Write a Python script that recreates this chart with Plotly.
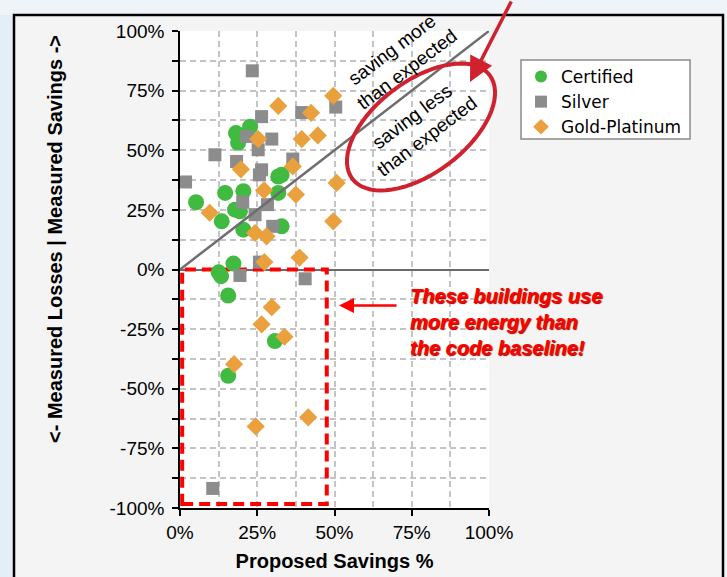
import numpy as np
import plotly.graph_objects as go

# ---------------- data (percent) ----------------
certified_x = [18.1, 22.7, 18.8, 21.5, 32.9, 31.8, 14.6, 20.5, 31.8, 5.2, 17.8, 19.4, 13.5, 20.5, 32.9, 17.3, 12.5, 13.3, 15.6, 30.7, 15.6]
certified_y = [57.2, 59.9, 53.1, 57.0, 39.7, 39.0, 32.1, 32.8, 32.1, 28.2, 25.1, 24.4, 20.2, 16.7, 18.1, 2.5, -1.2, -2.8, -10.9, -30.0, -44.6]

silver_x = [23.4, 39.4, 50.4, 26.4, 21.6, 29.7, 25.3, 11.3, 18.3, 26.4, 25.7, 36.5, 1.8, 20.3, 28.3, 24.3, 30.0, 25.7, 19.4, 40.5, 10.6]
silver_y = [83.3, 65.8, 68.1, 64.1, 55.8, 54.7, 50.2, 48.1, 45.3, 41.8, 39.7, 46.3, 36.7, 28.2, 27.2, 23.0, 18.1, 3.1, -2.5, -3.9, -91.8]

gold_x = [31.8, 42.4, 49.6, 25.3, 39.4, 44.6, 19.7, 36.5, 27.2, 37.5, 50.7, 9.6, 24.3, 28.0, 49.6, 27.3, 38.7, 29.7, 26.4, 33.8, 17.5, 24.5, 41.5]
gold_y = [68.6, 65.7, 72.8, 54.7, 54.7, 56.2, 42.0, 43.2, 33.2, 31.4, 36.3, 23.8, 15.3, 13.9, 20.2, 3.1, 5.0, -15.8, -23.0, -28.2, -39.7, -65.8, -62.0]

x_tick_vals = [0, 25, 50, 75, 100]
x_tick_text = ["0%", "25%", "50%", "75%", "100%"]
y_tick_vals = [-100, -75, -50, -25, 0, 25, 50, 75, 100]
y_tick_text = ["-100%", "-75%", "-50%", "-25%", "0%", "25%", "50%", "75%", "100%"]

# ---------------- layout geometry ----------------
W, H = 727, 577
L, R, T, B = 180, 489, 31, 508   # plot area in pixels


def fx(px):
    return (px - L) / (R - L)


def fy(py):
    return (B - py) / (B - T)


FONT = "Liberation Sans, Arial, sans-serif"

fig = go.Figure()
fig.add_trace(go.Scatter(x=certified_x, y=certified_y, mode="markers", name="Certified",
                         marker=dict(symbol="circle", size=16, color="#41BA41"), legendgroup="a"))
fig.add_trace(go.Scatter(x=silver_x, y=silver_y, mode="markers", name="Silver",
                         marker=dict(symbol="square", size=13, color="#8C8C8C"), legendgroup="b"))
fig.add_trace(go.Scatter(x=gold_x, y=gold_y, mode="markers", name="Gold-Platinum",
                         marker=dict(symbol="diamond", size=14, color="#EAA03C"), legendgroup="c"))

grid = dict(gridcolor="#c4c4c4", gridwidth=1.5, griddash="6px,4px")

fig.update_xaxes(range=[0, 100], tickmode="array", tickvals=x_tick_vals, ticktext=x_tick_text,
                 automargin=False,
                 showline=True, linecolor="black", linewidth=1.5, ticks="outside", ticklen=6,
                 tickcolor="black", tickwidth=1.5, zeroline=False, showgrid=True, **grid,
                 minor=dict(tickmode="linear", tick0=0, dtick=12.5, showgrid=True, **grid),
                 tickfont=dict(family=FONT, size=19, color="black"), ticklabelstandoff=0,
                 title=dict(text="<b>Proposed Savings %</b>", font=dict(family=FONT, size=20, color="black"),
                            standoff=12))
fig.update_yaxes(range=[-100, 100], tickmode="array", tickvals=y_tick_vals, ticktext=y_tick_text,
                 automargin=False,
                 showline=True, linecolor="black", linewidth=1.5, ticks="outside", ticklen=6,
                 tickcolor="black", tickwidth=1.5, showgrid=True, **grid,
                 zeroline=True, zerolinecolor="#6a6a6a", zerolinewidth=2,
                 minor=dict(tickmode="linear", tick0=0, dtick=12.5, showgrid=True, ticks="outside",
                            ticklen=6, tickcolor="black", tickwidth=1.5, **grid),
                 tickfont=dict(family=FONT, size=19, color="black"), ticklabelstandoff=4)

shapes = []
# outer slide background strips and box border
shapes.append(dict(type="rect", xref="paper", yref="paper", x0=fx(0), x1=fx(14), y0=fy(H), y1=fy(0),
                   fillcolor="#e4eef7", line=dict(width=0), layer="below"))
shapes.append(dict(type="rect", xref="paper", yref="paper", x0=fx(0), x1=fx(W), y0=fy(15), y1=fy(0),
                   fillcolor="#eef4f8", line=dict(width=0), layer="below"))
shapes.append(dict(type="rect", xref="paper", yref="paper", x0=fx(723), x1=fx(W), y0=fy(H), y1=fy(0),
                   fillcolor="#eef4f8", line=dict(width=0), layer="below"))
shapes.append(dict(type="path", xref="paper", yref="paper",
                   path=f"M {fx(14)},{fy(H + 5)} L {fx(14)},{fy(15)} L {fx(723)},{fy(15)} L {fx(723)},{fy(H + 5)}",
                   line=dict(color="black", width=2.5), layer="below"))
# legend box
shapes.append(dict(type="rect", xref="paper", yref="paper", x0=fx(521), x1=fx(690), y0=fy(139), y1=fy(60),
                   fillcolor="white", line=dict(color="#8a8a8a", width=1.5), layer="below"))
# diagonal expected line
shapes.append(dict(type="line", xref="x", yref="y", x0=0, y0=0, x1=100, y1=100,
                   line=dict(color="#6e6e6e", width=2.5), layer="above"))
# red dashed box
shapes.append(dict(type="rect", xref="x", yref="y", x0=0.7, x1=47.5, y0=-98.3, y1=0,
                   line=dict(color="#ff0000", width=4, dash="11px,6px"), layer="between"))
# red ellipse
cx, cy, a, b, th = 421, 127, 86, 46, np.deg2rad(37)
t = np.linspace(0, 2 * np.pi, 73)
ex = cx + a * np.cos(t) * np.cos(th) + b * np.sin(t) * np.sin(th)
ey = cy - a * np.cos(t) * np.sin(th) + b * np.sin(t) * np.cos(th)
path = "M " + " L ".join(f"{fx(u):.5f},{fy(v):.5f}" for u, v in zip(ex, ey)) + " Z"
shapes.append(dict(type="path", xref="paper", yref="paper", path=path,
                   line=dict(color="#d0222e", width=4), layer="above"))

annotations = [
    dict(xref="paper", yref="paper", x=fx(55), y=fy(239), text="<b>&lt;- Measured Losses | Measured Savings -&gt;</b>",
         textangle=-90, showarrow=False, font=dict(family=FONT, size=20, color="black"),
         xanchor="center", yanchor="middle"),
    dict(xref="paper", yref="paper", x=fx(399), y=fy(60), text="saving more<br>than expected",
         textangle=-37, showarrow=False, font=dict(family=FONT, size=19, color="black"),
         xanchor="center", yanchor="middle"),
    dict(xref="paper", yref="paper", x=fx(419), y=fy(127), text="saving less<br>than expected",
         textangle=-37, showarrow=False, font=dict(family=FONT, size=19, color="black"),
         xanchor="center", yanchor="middle"),
    dict(xref="paper", yref="paper", x=fx(408), y=fy(322),
         text="<b><i>These buildings use<br>more energy than<br>the code baseline!</i></b>",
         showarrow=False, align="left", xanchor="left", yanchor="middle",
         font=dict(family=FONT, size=20, color="#ff0000", shadow="1px 1px 1px #9a0000")),
    dict(xref="paper", yref="paper", x=fx(339), y=fy(305.5), ax=59, ay=0, text="",
         showarrow=True, arrowhead=2, arrowsize=1.2, arrowwidth=2.5, arrowcolor="#ff0000", standoff=0),
    dict(xref="paper", yref="paper", x=fx(470), y=fy(82), ax=42, ay=-86, text="",
         showarrow=True, arrowhead=2, arrowsize=1.4, arrowwidth=3.5, arrowcolor="#d0222e", standoff=0),
]

fig.update_layout(
    width=W, height=H, autosize=False,
    margin=dict(l=L, r=W - R, t=T, b=H - B, pad=0),
    paper_bgcolor="#f4f4f4", plot_bgcolor="white",
    shapes=shapes, annotations=annotations,
    legend=dict(x=fx(521), y=fy(59), xanchor="left", yanchor="top", bgcolor="rgba(0,0,0,0)",
                borderwidth=0, itemsizing="constant", tracegroupgap=0,
                font=dict(family="DejaVu Sans, Verdana, sans-serif", size=17, color="black")),
    showlegend=True,
)

fig.write_html("out.html", config={"displayModeBar": False},
               post_script="document.body.style.margin='0';document.body.style.padding='0';")
